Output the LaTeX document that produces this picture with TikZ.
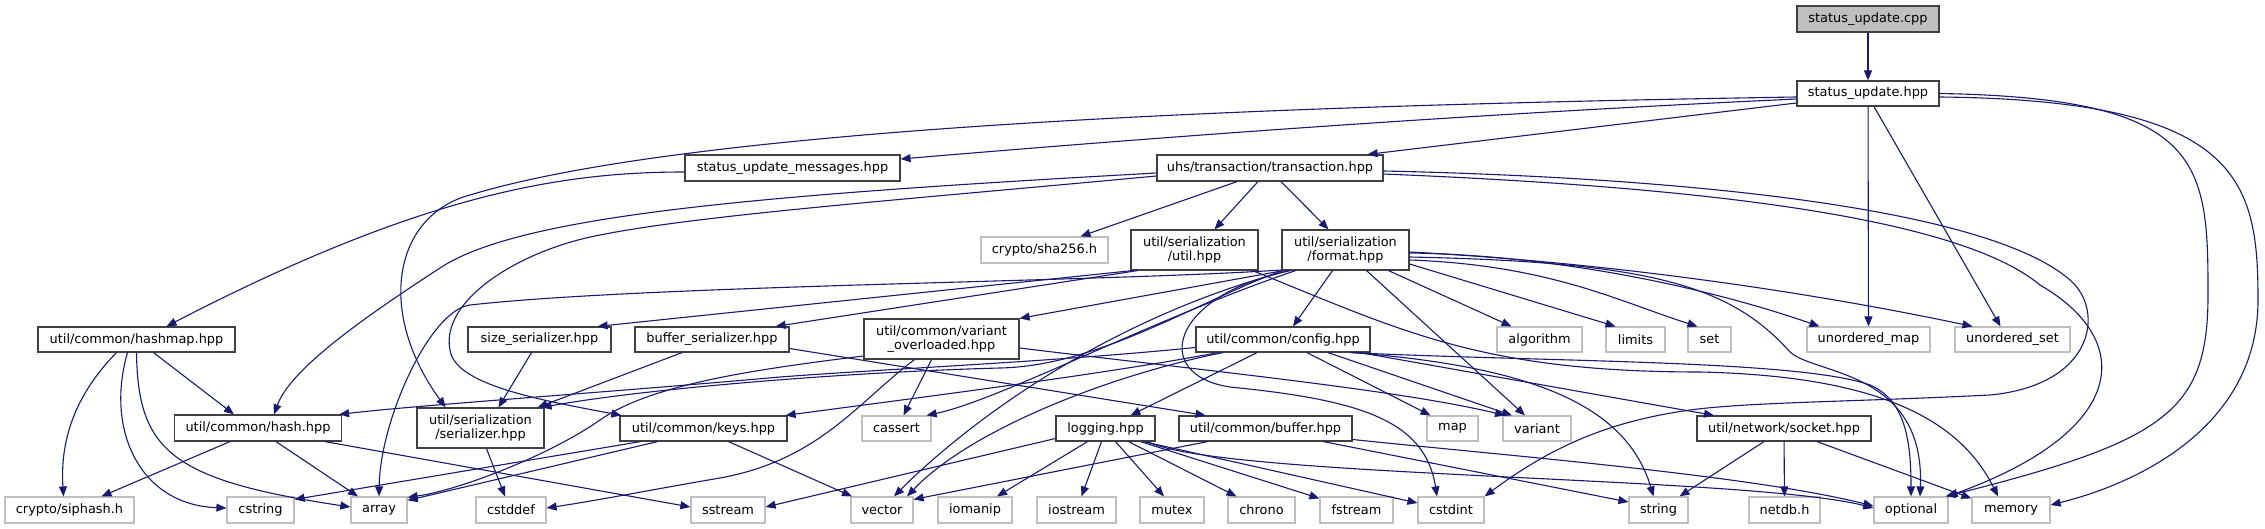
\documentclass[tikz,border=0pt]{standalone}
\usepackage{fontspec}
\setmainfont{DejaVu Sans}
\usetikzlibrary{arrows.meta}
\definecolor{edgec}{HTML}{191970}
\definecolor{dgray}{HTML}{404040}
\definecolor{lgray}{HTML}{BFBFBF}
\newcommand\nodefont{\fontsize{12.9}{14.5}\selectfont}
\begin{document}
\begin{tikzpicture}[x=1pt,y=-1pt,
  box/.style={draw=dgray,line width=1.2pt,fill=white,inner sep=0pt,align=center,font=\nodefont,minimum height=25pt},
  sys/.style={box,draw=lgray},
  dep/.style={draw=edgec,line width=1.1pt,-{Triangle[length=10pt,width=8pt]}}]
\fill[white] (0,0) rectangle (2265,529);
\useasboundingbox (0,0) rectangle (2265,529);
% ---------- nodes ----------
\node[box,fill=lgray,minimum width=142pt,minimum height=26pt] (sucpp) at (1868,19) {status\_update.cpp};
\node[box,minimum width=142pt] (suhpp) at (1868,93.5) {status\_update.hpp};
\node[box,minimum width=215pt,minimum height=26pt] (msgs) at (792.5,168) {status\_update\_messages.hpp};
\node[box,minimum width=226pt,minimum height=26pt] (tx) at (1270,168) {uhs/transaction/transaction.hpp};
\node[sys,minimum width=127pt,minimum height=26pt] (sha) at (1044.5,250) {crypto/sha256.h};
\node[box,minimum width=127pt,minimum height=40pt] (sutil) at (1194.5,250) {util/serialization\\/util.hpp};
\node[box,minimum width=127pt,minimum height=40pt] (fmt) at (1345.5,250) {util/serialization\\/format.hpp};
\node[box,minimum width=197pt] (hashmap) at (136.5,339.5) {util/common/hashmap.hpp};
\node[box,minimum width=143pt] (sizes) at (539.5,339.5) {size\_serializer.hpp};
\node[box,minimum width=154pt] (bufs) at (712,339.5) {buffer\_serializer.hpp};
\node[box,minimum width=155pt,minimum height=40pt] (varov) at (941.5,339) {util/common/variant\\\_overloaded.hpp};
\node[box,minimum width=174pt] (config) at (1283,339.5) {util/common/config.hpp};
\node[sys,minimum width=85pt] (salgorithm) at (1539.5,339.5) {algorithm};
\node[sys,minimum width=59pt] (slimits) at (1635.5,339.5) {limits};
\node[sys,minimum width=43pt] (sset) at (1709.5,339.5) {set};
\node[sys,minimum width=123pt] (umap) at (1868.5,339.5) {unordered\_map};
\node[sys,minimum width=115pt] (uset) at (2012.5,339.5) {unordered\_set};
\node[box,minimum width=167pt,minimum height=26pt] (hash) at (258,428) {util/common/hash.hpp};
\node[box,minimum width=127pt,minimum height=40pt] (ser) at (480.5,428) {util/serialization\\/serializer.hpp};
\node[box,minimum width=167pt] (keys) at (703.5,428.5) {util/common/keys.hpp};
\node[sys,minimum width=69pt] (scassert) at (896.5,428.5) {cassert};
\node[box,minimum width=99pt] (logging) at (1105.5,428.5) {logging.hpp};
\node[box,minimum width=173pt] (buffer) at (1265.5,428.5) {util/common/buffer.hpp};
\node[sys,minimum width=51pt] (smap) at (1452.5,428.5) {map};
\node[sys,minimum width=68pt] (svariant) at (1537,428.5) {variant};
\node[box,minimum width=174pt] (socket) at (1784,428.5) {util/network/socket.hpp};
\node[sys,minimum width=129pt,minimum height=26pt] (ssiphash) at (69.5,510) {crypto/siphash.h};
\node[sys,minimum width=67pt,minimum height=26pt] (scstring) at (260.5,510) {cstring};
\node[sys,minimum width=56pt,minimum height=26pt] (sarray) at (379,510) {array};
\node[sys,minimum width=70pt,minimum height=26pt] (scstddef) at (511,510) {cstddef};
\node[sys,minimum width=74pt,minimum height=26pt] (ssstream) at (728,510) {sstream};
\node[sys,minimum width=62pt,minimum height=26pt] (svector) at (882,510) {vector};
\node[sys,minimum width=74pt,minimum height=26pt] (siomanip) at (975,510) {iomanip};
\node[sys,minimum width=79pt,minimum height=26pt] (siostream) at (1076.5,510) {iostream};
\node[sys,minimum width=64pt,minimum height=26pt] (smutex) at (1172,510) {mutex};
\node[sys,minimum width=67pt,minimum height=26pt] (schrono) at (1261.5,510) {chrono};
\node[sys,minimum width=73pt,minimum height=26pt] (sfstream) at (1356.5,510) {fstream};
\node[sys,minimum width=66pt,minimum height=26pt] (scstdint) at (1451,510) {cstdint};
\node[sys,minimum width=59pt,minimum height=26pt] (sstring) at (1658.5,510) {string};
\node[sys,minimum width=71pt,minimum height=26pt] (snetdb) at (1784.5,510) {netdb.h};
\node[sys,minimum width=74pt,minimum height=26pt] (sopt) at (1911,510) {optional};
\node[sys,minimum width=78pt,minimum height=26pt] (smem) at (2011,510) {memory};
% ---------- edges ----------
% status_update.cpp / .hpp
\draw[dep] (sucpp) -- (suhpp);
\draw[dep] ([yshift=-5.5pt]suhpp.west) .. controls (1450,115) and (1150,138) .. ([yshift=9pt]msgs.east);
\draw[dep] ([yshift=-9.5pt]suhpp.west) -- ([xshift=-16pt]tx.north east);
\draw[dep] ([yshift=-3.5pt]suhpp.west) .. controls (1300,105) and (700,125) .. (470,195) .. controls (395,215) and (375,310) .. ([xshift=-35pt]ser.north);
\draw[dep] (suhpp) -- (umap);
\draw[dep] ([xshift=6pt]suhpp.south) -- ([xshift=-12pt]uset.north);
\draw[dep] (suhpp.east) .. controls (2200,98) and (2208,160) .. (2208,290) .. controls (2209,410) and (2170,440) .. ([xshift=-3pt]sopt.north east);
\draw[dep] ([yshift=-3.5pt]suhpp.east) .. controls (2240,100) and (2258,180) .. (2258,300) .. controls (2258,420) and (2150,480) .. ([yshift=5pt]smem.east);
% status_update_messages
\draw[dep] ([yshift=-4pt]msgs.west) .. controls (560,172) and (420,195) .. ([xshift=30pt]hashmap.north);
% transaction
\draw[dep] ([xshift=-33pt]tx.south) -- ([xshift=36pt]sha.north);
\draw[dep] ([xshift=-12pt]tx.south) -- ([xshift=20pt]sutil.north);
\draw[dep] ([xshift=11pt]tx.south) -- ([xshift=-17pt]fmt.north);
\draw[dep] ([yshift=-5pt]tx.west) .. controls (760,195) and (520,215) .. (440,268) .. controls (360,320) and (290,370) .. ([xshift=16pt]hash.north);
\draw[dep] ([yshift=-8pt]tx.west) .. controls (900,200) and (700,215) .. (600,235) .. controls (520,250) and (440,300) .. (450,350) .. controls (455,385) and (540,400) .. ([xshift=2pt]keys.north west);
\draw[dep] ([yshift=-3pt]tx.east) .. controls (1700,178) and (1990,210) .. (2070,280) .. controls (2105,310) and (2095,385) .. (1990,395) .. controls (1850,402) and (1750,402) .. (1690,410) .. controls (1620,420) and (1560,440) .. (scstdint.north east);
\draw[dep] ([yshift=-6pt]tx.east) .. controls (1650,185) and (1950,210) .. (2040,285) .. controls (2135,340) and (2130,430) .. ([xshift=-1pt]sopt.north east);
% hashmap
\draw[dep] ([xshift=-20pt]hashmap.south) .. controls (75,395) and (60,440) .. ([xshift=-6pt]ssiphash.north);
\draw[dep] ([xshift=-9pt]hashmap.south) .. controls (105,430) and (140,505) .. ([yshift=2pt]scstring.west);
\draw[dep] (hashmap.south) .. controls (138,450) and (170,480) .. ([yshift=3pt]sarray.west);
\draw[dep] ([xshift=17pt]hashmap.south) -- ([xshift=-24pt]hash.north);
% serialization/util
\draw[dep] ([xshift=2pt]sutil.south west) -- ([xshift=-14pt]sizes.north east);
\draw[dep] ([xshift=7pt]sutil.south west) -- ([xshift=-14pt]bufs.north east);
\draw[dep] ([xshift=-6pt]sutil.south east) .. controls (1400,330) and (1480,372) .. (1700,372) .. controls (1880,376) and (1960,420) .. ([xshift=-13pt]smem.north);
% serialization/format
\draw[dep] ([xshift=-13pt]fmt.south) -- ([xshift=10pt]config.north);
\draw[dep] ([xshift=21pt]fmt.south) -- ([xshift=-12pt]svariant.north);
\draw[dep] ([xshift=43pt]fmt.south) -- ([xshift=-28pt]salgorithm.north);
\draw[dep] ([yshift=-14pt]fmt.east) -- ([xshift=-20pt]slimits.north);
\draw[dep] ([yshift=-10pt]fmt.east) .. controls (1550,265) and (1620,302) .. ([xshift=-12pt]sset.north);
\draw[dep] ([yshift=-3pt]fmt.east) .. controls (1550,255) and (1700,285) .. ([xshift=-49pt]umap.north);
\draw[dep] ([yshift=-2pt]fmt.east) .. controls (1600,262) and (1800,290) .. ([xshift=-40pt]uset.north);
\draw[dep] ([yshift=-7pt]fmt.east) .. controls (1650,262) and (1730,285) .. (1790,352) .. controls (1815,375) and (1925,370) .. ([xshift=9pt]sopt.north);
\draw[dep] ([xshift=-62pt]fmt.south) -- (varov.north east);
\draw[dep] ([xshift=-50pt]fmt.south) .. controls (1150,320) and (1000,400) .. ([xshift=-5pt]scassert.north east);
\draw[dep] ([xshift=-57pt]fmt.south) .. controls (1100,320) and (960,430) .. ([xshift=12pt]svector.north);
\draw[dep] ([xshift=-55pt]fmt.south) .. controls (1170,295) and (1150,375) .. (1230,387) .. controls (1360,400) and (1425,420) .. ([xshift=-14pt]scstdint.north);
\draw[dep] ([xshift=-63pt]fmt.south) .. controls (1200,300) and (1100,366) .. (1000,368) .. controls (850,372) and (650,388) .. ([xshift=-3pt]ser.north east);
\draw[dep] ([yshift=-20pt]fmt.west) .. controls (1100,282) and (650,285) .. (470,305) .. controls (430,310) and (380,420) .. (sarray.north);
% config
\draw[dep] ([xshift=-26pt]config.south) -- ([xshift=25pt]logging.north);
\draw[dep] ([xshift=24pt]config.south) -- ([xshift=-22pt]smap.north);
\draw[dep] ([xshift=45pt]config.south) -- ([xshift=-25pt]svariant.north);
\draw[dep] ([xshift=77pt]config.south) -- ([xshift=-70pt]socket.north);
\draw[dep] ([xshift=70pt]config.south) .. controls (1520,366) and (1625,400) .. ([xshift=-5pt]sstring.north);
\draw[dep] ([xshift=67pt]config.south) .. controls (1550,362) and (1800,360) .. (1870,385) .. controls (1905,400) and (1911,440) .. (sopt.north);
\draw[dep] ([xshift=-60pt]config.south) .. controls (1110,375) and (970,430) .. ([xshift=25pt]svector.north);
\draw[dep] ([xshift=-65pt]config.south) .. controls (1100,375) and (900,400) .. ([xshift=-2pt]keys.north east);
\draw[dep] ([yshift=-8pt]config.west) .. controls (1050,362) and (900,368) .. (780,377) .. controls (600,393) and (420,405) .. ([xshift=-3pt]hash.north east);
% variant_overloaded
\draw[dep] ([xshift=-10pt]varov.south) -- ([xshift=7pt]scassert.north);
\draw[dep] ([xshift=-27pt]varov.south) .. controls (860,400) and (820,460) .. (720,478) .. controls (650,490) and (600,500) .. ([yshift=2pt]scstddef.east);
\draw[dep] ([yshift=-9pt]varov.east) .. controls (1200,370) and (1400,390) .. ([xshift=-32pt]svariant.north);
\draw[dep] ([yshift=-17pt]varov.west) .. controls (750,370) and (650,385) .. (600,420) .. controls (550,455) and (460,490) .. ([yshift=-1pt]sarray.north east);
% size / buffer serializer
\draw[dep] ([xshift=-8pt]sizes.south) -- ([xshift=18pt]ser.north);
\draw[dep] ([xshift=-30pt]bufs.south) -- ([xshift=-7pt]ser.north east);
\draw[dep] ([yshift=-9pt]bufs.east) -- ([xshift=-60pt]buffer.north);
% serializer
\draw[dep] ([xshift=6pt]ser.south) -- ([xshift=-6pt]scstddef.north);
% hash
\draw[dep] ([xshift=-28pt]hash.south) -- ([xshift=32pt]ssiphash.north);
\draw[dep] ([xshift=18pt]hash.south) -- ([xshift=-21pt]sarray.north);
\draw[dep] ([xshift=67pt]hash.south) -- ([yshift=3pt]ssstream.west);
% keys
\draw[dep] ([xshift=-63pt]keys.south) -- ([yshift=-3pt]scstring.north east);
\draw[dep] ([xshift=-46pt]keys.south) -- ([yshift=-4pt]sarray.north east);
\draw[dep] ([xshift=25pt]keys.south) -- ([xshift=-30pt]svector.north);
% logging
\draw[dep] ([yshift=-10pt]logging.west) -- ([yshift=3pt]ssstream.east);
\draw[dep] ([xshift=-18pt]logging.south) -- ([xshift=22pt]siomanip.north);
\draw[dep] ([xshift=-4pt]logging.south) -- ([xshift=5pt]siostream.north);
\draw[dep] ([xshift=10pt]logging.south) -- ([xshift=-8pt]smutex.north);
\draw[dep] ([xshift=23pt]logging.south) -- ([xshift=-25pt]schrono.north);
\draw[dep] ([xshift=35pt]logging.south) -- ([yshift=-2pt]sfstream.north west);
\draw[dep] ([xshift=38pt]logging.south) -- ([yshift=7pt]scstdint.west);
\draw[dep] ([xshift=42pt]logging.south) .. controls (1220,478) and (1750,476) .. ([yshift=2pt]sopt.west);
% buffer
\draw[dep] ([xshift=-58pt]buffer.south) -- ([yshift=-3pt]svector.north east);
\draw[dep] ([xshift=58pt]buffer.south) -- ([yshift=8pt]sstring.west);
\draw[dep] ([yshift=-11pt]buffer.east) .. controls (1500,455) and (1750,475) .. ([yshift=4pt]sopt.west);
% socket
\draw[dep] ([xshift=-20pt]socket.south) -- ([xshift=21pt]sstring.north);
\draw[dep] (socket) -- (snetdb);
\draw[dep] ([xshift=33pt]socket.south) -- ([yshift=-2pt]smem.north west);
\end{tikzpicture}
\end{document}
